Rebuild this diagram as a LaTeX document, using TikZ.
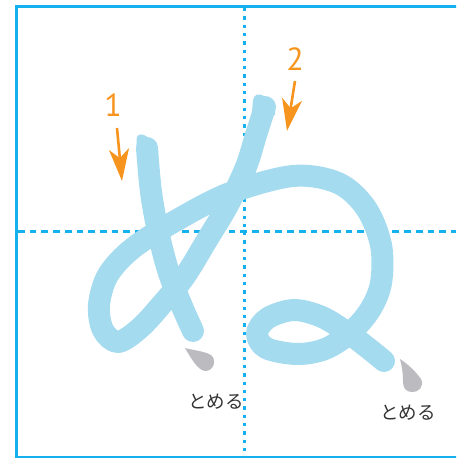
\documentclass[tikz,border=0pt]{standalone}
\usepackage{fontspec}
\usepackage{xcolor}
\usetikzlibrary{arrows.meta,positioning}
\newfontfamily\cjk{Noto Sans CJK JP}
\newfontfamily\numfont{PT Sans}
\definecolor{gridblue}{HTML}{14B1EE}
\definecolor{inkblue}{HTML}{A4DBEF}
\definecolor{orderorange}{HTML}{F7941D}
\definecolor{dropgray}{HTML}{BBBBC0}
\definecolor{notegray}{HTML}{333333}

\begin{document}
\begin{tikzpicture}[x=1pt, y=-1pt,
  frame/.style={draw=gridblue, line width=3pt},
  vguide/.style={draw=gridblue, line width=3pt, dash pattern=on 3.3pt off 5pt},
  hguide/.style={draw=gridblue, line width=3pt, dash pattern=on 6.7pt off 5pt},
  kana/.style={draw=inkblue, line width=22pt, line cap=round, line join=round},
  kanatip/.style={fill=inkblue},
  drop/.style={fill=dropgray},
  order/.style={font=\numfont\fontsize{32}{32}\selectfont, text=orderorange, inner sep=0pt},
  orderarr/.style={draw=orderorange, line width=2.6pt,
    -{Stealth[length=32pt, width=20pt, inset=9pt]}},
  note/.style={font=\cjk\fontsize{18.5}{19}\selectfont, text=notegray, inner sep=0pt}]
\useasboundingbox (0,0) rectangle (456,458);
% frame and guides
\begin{scope}
\clip (0,0) rectangle (456,458);
\draw[frame] (16,6) rectangle (470,457);
\end{scope}
\draw[vguide] (244,8) -- (244,458);
\draw[hguide] (18,231) -- (456,231);
% stroke 1
\fill[kanatip] (136.5,152) -- (136.5,139) .. controls (137,134) and (141,133) .. (146,136)
  .. controls (152,140) and (158,146) .. (158,156) -- cycle;
\draw[kana] plot[smooth, tension=0.6] coordinates {(147,148) (151,192) (158,231) (168,270) (181,304) (193,331)};
% stroke 2
\fill[kanatip] (252,112) -- (253,100) .. controls (254,94) and (259,93) .. (264,96)
  .. controls (270,100) and (276,106) .. (275,115) -- cycle;
\draw[kana] plot[smooth, tension=0.55] coordinates {(265,107) (256,135) (246,167) (228,205)
  (207,240) (185,276) (163,303) (140,328) (118,342) (103,330) (99,305) (108,275) (133,248)
  (177,220) (230,193) (293,176) (338,183) (366,208) (381,245) (381,283) (370,310) (350,333)
  (325,349) (297,354) (266,348) (257,333) (268,318) (294,310) (322,317) (348,333) (368,348)
  (384,361)};
% stop marks
\fill[drop] (185,348) .. controls (192,350) and (204,351) .. (211,355)
  .. controls (217,360) and (214,371) .. (205,371) .. controls (198,370) and (192,360) .. (185,348) -- cycle;
\fill[drop] (400,359) .. controls (408,364) and (416,372) .. (421,379)
  .. controls (425,386) and (418,393) .. (412,392) .. controls (406,392) and (403,388) .. (403,382)
  .. controls (403,374) and (402,366) .. (400,359) -- cycle;
\node[note] (stop1) at (216,402) {とめる};
\node[note] (stop2) at (408,413) {とめる};
% stroke order
\node[order] (n1) at (113,105) {1};
\node[order] (n2) at (295,59) {2};
\coordinate (a1s) at (117,128);
\coordinate (a1e) at (122,181);
\coordinate (a2s) at (295,81);
\coordinate (a2e) at (287,131);
\draw[orderarr] (a1s) -- (a1e);
\draw[orderarr] (a2s) -- (a2e);
\end{tikzpicture}
\end{document}
